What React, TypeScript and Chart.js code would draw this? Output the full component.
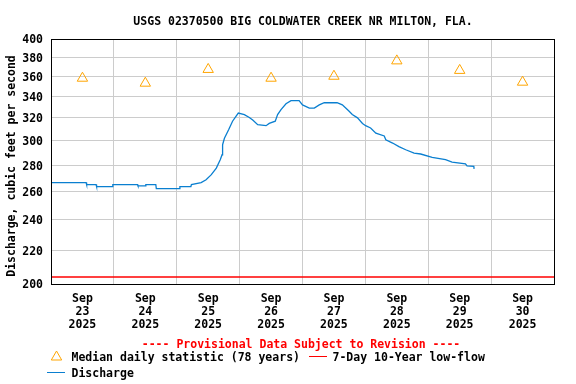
import React, { useEffect, useRef } from 'react';
import { Chart, registerables } from 'chart.js';

Chart.register(...registerables);

const TITLE = 'USGS 02370500 BIG COLDWATER CREEK NR MILTON, FLA.';
const Y_TITLE = 'Discharge, cubic feet per second';
const PROVISIONAL = '---- Provisional Data Subject to Revision ----';
const LEGEND_MEDIAN = 'Median daily statistic (78 years)';
const LEGEND_LOWFLOW = '7-Day 10-Year low-flow';
const LEGEND_DISCHARGE = 'Discharge';

const DAY_MONTHS = ['Sep', 'Sep', 'Sep', 'Sep', 'Sep', 'Sep', 'Sep', 'Sep'];
const DAY_NUMBERS = ['23', '24', '25', '26', '27', '28', '29', '30'];
const DAY_YEARS = ['2025', '2025', '2025', '2025', '2025', '2025', '2025', '2025'];

const Y_TICKS = [200, 220, 240, 260, 280, 300, 320, 340, 360, 380, 400];

const MEDIAN_HOURS = [12, 36, 60, 84, 108, 132, 156, 180];
const MEDIAN_VALUES = [358, 353, 367, 358, 360, 376, 366, 354];

const LOW_FLOW_HOURS = [0, 192];
const LOW_FLOW_VALUES = [204, 204];

const DISCHARGE_HOURS = [
  0, 13.4, 13.6, 17.2, 17.4, 23.4, 23.6, 33, 33.2, 36, 36.2, 40, 40.2, 49, 49.2,
  53.4, 53.6, 57.3, 59.2, 61.2, 63.1, 64.6, 65.3, 65.5, 66.2, 67.8, 69.3, 70.6,
  71.5, 73.8, 75.7, 77, 78.9, 82.1, 83.3, 85.6, 86.5, 87.8, 89.7, 91.6, 94.7, 96,
  98.6, 100.5, 102.4, 104.3, 109.2, 111.2, 112.5, 113.8, 115, 117, 118.9, 120.1,
  122, 124, 127.2, 127.8, 130.4, 132.8, 135.4, 138.6, 141.1, 145.5, 150.6, 153.1,
  158.2, 158.8, 161.4, 161.5,
];
const DISCHARGE_VALUES = [
  266.5, 266.5, 265, 265, 263.5, 263.5, 265, 265, 264, 264, 265, 265, 262, 262, 263.5,
  263.5, 265, 266.5, 268.6, 272.5, 277.6, 284.3, 288.3, 296.6, 302, 309.4, 317, 321.4,
  324.4, 323, 320.4, 318, 313.9, 313, 315, 317, 323, 327.5, 333, 336, 336, 332,
  329, 329, 332, 334, 334, 332, 329, 326, 323, 320, 315, 313,
  311, 306.5, 304, 300.7, 298, 295, 292.4, 289.7, 288.9, 286.1, 284.3, 282.4,
  281, 279.4, 279, 277,
];

const FONT_FAMILY = '"DejaVu Sans Mono", "Liberation Mono", monospace';
const FONT = `bold 11.5px ${FONT_FAMILY}`;
const BLUE = '#0a7fd0';
const ORANGE = '#ffa500';
const RED = '#ff0000';
const GRID = '#cccccc';

function drawTriangle(ctx: CanvasRenderingContext2D, x: number, y: number, r: number) {
  ctx.beginPath();
  for (let i = 0; i < 3; i++) {
    const a = (i * 2 * Math.PI) / 3;
    const px = x + Math.sin(a) * r;
    const py = y - Math.cos(a) * r;
    if (i === 0) ctx.moveTo(px, py);
    else ctx.lineTo(px, py);
  }
  ctx.closePath();
  ctx.stroke();
}

const overlayPlugin = {
  id: 'overlay',
  afterDatasetsDraw(chart: any) {
    const { ctx, chartArea } = chart;
    ctx.save();
    ctx.strokeStyle = '#000';
    ctx.lineWidth = 1;
    const l = Math.round(chartArea.left) + 0.5;
    const t = Math.round(chartArea.top) + 0.5;
    const r = Math.round(chartArea.right) + 0.5;
    const b = Math.round(chartArea.bottom) + 0.5;
    ctx.strokeRect(l, t, r - l, b - t);
    ctx.restore();
  },
  afterDraw(chart: any) {
    const { ctx } = chart;
    ctx.save();
    ctx.font = FONT;
    ctx.fillStyle = '#000';
    ctx.textBaseline = 'alphabetic';

    // title
    ctx.textAlign = 'center';
    ctx.fillText(TITLE, 303, 25);

    // y-axis title
    ctx.save();
    ctx.translate(14.5, 166);
    ctx.rotate(-Math.PI / 2);
    ctx.textAlign = 'center';
    ctx.fillText(Y_TITLE, 0, 0);
    ctx.restore();

    // provisional
    ctx.fillStyle = RED;
    ctx.textAlign = 'center';
    ctx.fillText(PROVISIONAL, 301, 347.5);

    // legend row 1
    ctx.textAlign = 'left';
    ctx.strokeStyle = ORANGE;
    ctx.lineWidth = 1;
    drawTriangle(ctx, 56.5, 357, 6);
    ctx.fillStyle = '#000';
    ctx.fillText(LEGEND_MEDIAN, 71.5, 360.5);

    ctx.strokeStyle = RED;
    ctx.beginPath();
    ctx.moveTo(309, 356.5);
    ctx.lineTo(327, 356.5);
    ctx.stroke();
    ctx.fillText(LEGEND_LOWFLOW, 332.5, 360.5);

    // legend row 2
    ctx.strokeStyle = BLUE;
    ctx.beginPath();
    ctx.moveTo(47, 372.5);
    ctx.lineTo(65, 372.5);
    ctx.stroke();
    ctx.fillText(LEGEND_DISCHARGE, 71.5, 377);

    ctx.restore();
  },
};

export default function App() {
  const canvasRef = useRef<HTMLCanvasElement | null>(null);

  useEffect(() => {
    const canvas = canvasRef.current;
    if (!canvas) return;

    const discharge = DISCHARGE_HOURS.map((h, i) => ({ x: h, y: DISCHARGE_VALUES[i] }));
    const medians = MEDIAN_HOURS.map((h, i) => ({ x: h, y: MEDIAN_VALUES[i] }));
    const lowFlow = LOW_FLOW_HOURS.map((h, i) => ({ x: h, y: LOW_FLOW_VALUES[i] }));
    const xTickValues: number[] = [];
    for (let h = 0; h <= 192; h += 12) xTickValues.push(h);

    const chart = new Chart(canvas, {
      type: 'line',
      data: {
        datasets: [
          {
            label: LEGEND_MEDIAN,
            data: medians,
            showLine: false,
            pointStyle: 'triangle',
            pointRadius: 6,
            pointHoverRadius: 6,
            pointBorderColor: ORANGE,
            pointBackgroundColor: 'rgba(0,0,0,0)',
            pointBorderWidth: 1,
            borderColor: ORANGE,
            order: 0,
          },
          {
            label: LEGEND_DISCHARGE,
            data: discharge,
            borderColor: BLUE,
            borderWidth: 1.3,
            pointRadius: 0,
            tension: 0,
            fill: false,
            order: 1,
          },
          {
            label: LEGEND_LOWFLOW,
            data: lowFlow,
            borderColor: RED,
            borderWidth: 1.3,
            pointRadius: 0,
            fill: false,
            order: 2,
          },
        ],
      },
      options: {
        animation: false,
        responsive: true,
        maintainAspectRatio: false,
        events: [],
        layout: { padding: { left: 0, top: 39, right: 22, bottom: 0 } },
        plugins: {
          legend: { display: false },
          title: { display: false },
          tooltip: { enabled: false },
        },
        scales: {
          x: {
            type: 'linear',
            min: 0,
            max: 192,
            border: { display: false },
            grid: {
              drawTicks: false,
              lineWidth: 1,
              color: (c: any) =>
                c.tick && Math.round(c.tick.value) % 24 === 0 ? GRID : 'rgba(0,0,0,0)',
            },
            afterBuildTicks: (scale: any) => {
              scale.ticks = xTickValues.map((v) => ({ value: v }));
            },
            afterFit: (scale: any) => {
              scale.height = 100;
            },
            ticks: {
              autoSkip: false,
              maxRotation: 0,
              minRotation: 0,
              padding: 9,
              color: '#000',
              font: { family: FONT_FAMILY, size: 11.5, weight: 'bold', lineHeight: 1.1 },
              callback: (value: any) => {
                const v = Number(value);
                if (v % 24 !== 12) return '';
                const i = (v - 12) / 24;
                return [DAY_MONTHS[i], DAY_NUMBERS[i], DAY_YEARS[i]];
              },
            },
          },
          y: {
            type: 'logarithmic',
            min: 200,
            max: 400,
            border: { display: false },
            grid: { drawTicks: false, color: GRID, lineWidth: 1 },
            afterBuildTicks: (scale: any) => {
              scale.ticks = Y_TICKS.map((v) => ({ value: v }));
            },
            afterFit: (scale: any) => {
              scale.width = 51;
            },
            ticks: {
              padding: 8,
              labelOffset: 1.5,
              color: '#000',
              font: { family: FONT_FAMILY, size: 11.5, weight: 'bold' },
              callback: (value: any) => String(value),
            },
          },
        },
      },
      plugins: [overlayPlugin],
    });

    return () => chart.destroy();
  }, []);

  return (
    <div style={{ position: 'absolute', left: 0, top: 0, width: 576, height: 384, background: '#fff' }}>
      <canvas ref={canvasRef} />
    </div>
  );
}
